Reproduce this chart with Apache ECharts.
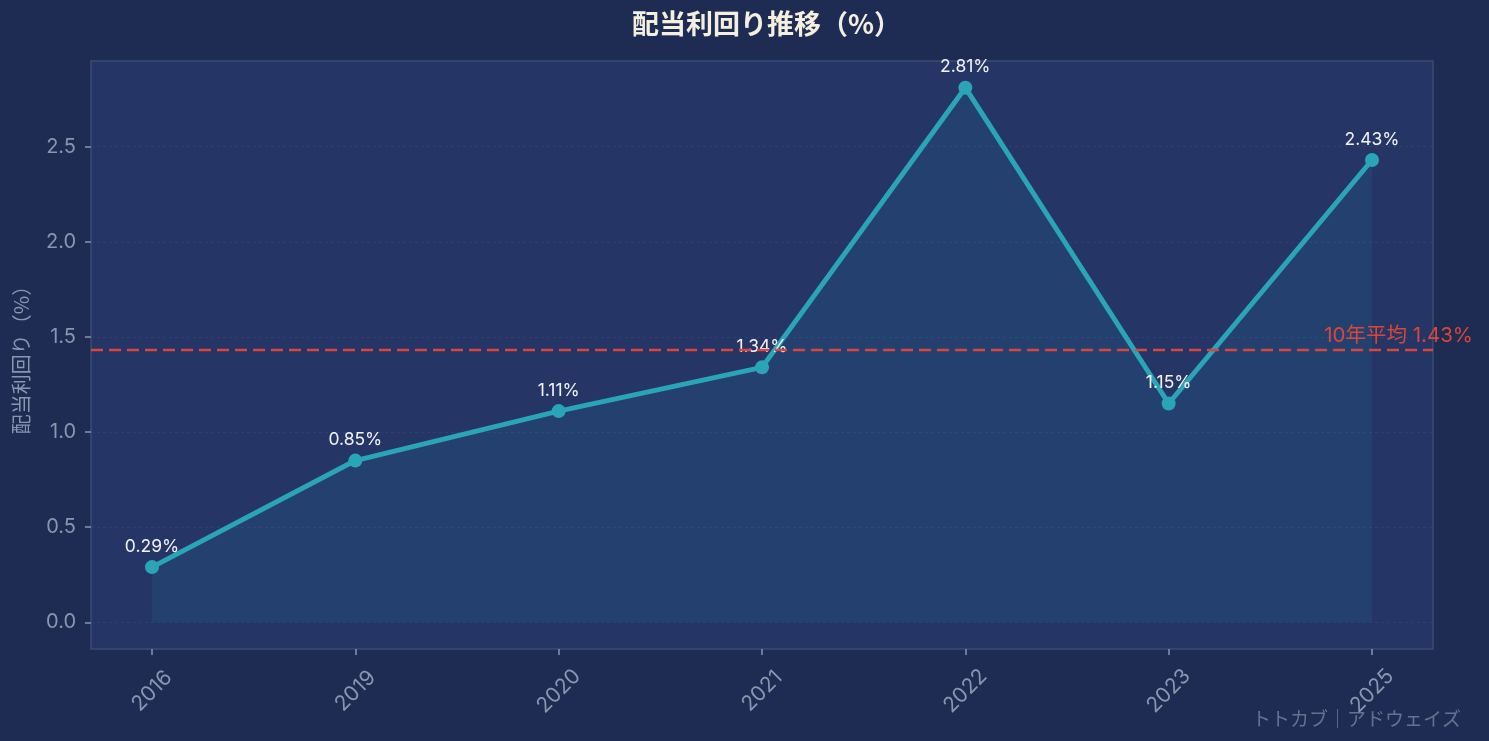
<!DOCTYPE html>
<html><head><meta charset="utf-8">
<script src="https://cdn.jsdelivr.net/npm/echarts@6/dist/echarts.min.js"></script>
<style>html,body{margin:0;padding:0;background:#1e2b53;}#c{width:1489px;height:741px;}</style>
</head><body><div id="c"></div>
<script>
const categories = ['2016','2019','2020','2021','2022','2023','2025'];
const yields = [0.29, 0.85, 1.11, 1.34, 2.81, 1.15, 2.43];
const average = 1.43;
const yTicks = [0.0, 0.5, 1.0, 1.5, 2.0, 2.5];

const FONT = 'Inter, "Noto Sans CJK JP", sans-serif';
const JP = '"Noto Sans CJK JP", sans-serif';
const chart = echarts.init(document.getElementById('c'));
const pts = yields.map((v, i) => [i, v]);
chart.setOption({
  backgroundColor: '#1e2b53',
  textStyle: {fontFamily: FONT},
  title: {text: '配当利回り推移（%）', left: 627, top: 5,
    textStyle: {color: '#f5efe0', fontSize: 27, fontWeight: 'bold', fontFamily: JP}},
  grid: {left: 91, right: 56, top: 61, bottom: 92, show: true,
    backgroundColor: '#243566', borderColor: '#3b4b72', borderWidth: 1.5},
  xAxis: {type: 'value', min: -0.3, max: 6.3, interval: 1,
    axisLine: {show: false, onZero: false}, splitLine: {show: false},
    axisTick: {show: true, length: 6, lineStyle: {color: '#8a95b0', width: 1.5},
      customValues: categories.map((c, i) => i)},
    axisLabel: {color: '#8a95b0', fontSize: 21, rotate: 45, margin: 42,
      align: 'center', verticalAlign: 'middle',
      customValues: categories.map((c, i) => i),
      formatter: v => categories[Math.round(v)] ?? ''}},
  yAxis: {type: 'value', min: -0.1405, max: 2.9505,
    name: '配当利回り（%）', nameLocation: 'middle', nameGap: 60,
    nameTextStyle: {color: '#8a95b0', fontSize: 20, fontFamily: JP},
    axisLine: {show: false, onZero: false},
    axisTick: {show: true, length: 6, lineStyle: {color: '#8a95b0', width: 1.5}, customValues: yTicks},
    axisLabel: {color: '#8a95b0', fontSize: 20, margin: 15, customValues: yTicks,
      formatter: v => v.toFixed(1)},
    splitLine: {show: true, lineStyle: {color: '#2f4070', type: [3, 3], width: 1}}},
  series: [{
    type: 'line', data: pts, symbol: 'circle', symbolSize: 14,
    lineStyle: {color: '#2aa5b8', width: 5},
    itemStyle: {color: '#2aa5b8'},
    areaStyle: {color: 'rgba(42,165,184,0.15)', origin: 'auto'},
    label: {show: true, position: 'top', distance: 5, color: '#f3f3f3', fontSize: 17.5,
      fontFamily: FONT, formatter: p => p.value[1].toFixed(2) + '%'},
    z: 3,
    markLine: {silent: true, symbol: 'none',
      lineStyle: {color: '#d9473a', type: [12, 6], width: 2.4},
      label: {show: true, position: 'insideEndTop', color: '#d9473a', fontSize: 20.5,
        fontFamily: FONT, offset: [45, 1], formatter: '10年平均 ' + average.toFixed(2) + '%'},
      data: [{yAxis: average}]}
  }],
  graphic: [{type: 'text', right: 28, bottom: 13,
    style: {text: 'トトカブ｜アドウェイズ', fill: 'rgba(150,160,185,0.6)', fontSize: 19, fontFamily: JP}}]
});
</script></body></html>
